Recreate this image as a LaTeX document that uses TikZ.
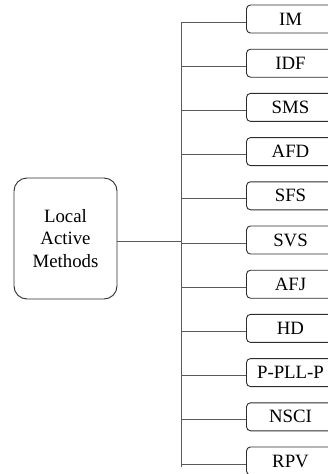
\documentclass[tikz,border=0pt]{standalone}
\usepackage{fontspec}
\setmainfont{Liberation Serif}
\definecolor{boxcol}{HTML}{2E2E2E}
\definecolor{linecol}{HTML}{5A5A5A}
\begin{document}
\begin{tikzpicture}[x=1pt,y=-1pt,
  item/.style={draw=boxcol, line width=0.9pt, rounded corners=4pt, minimum width=88pt, minimum height=28pt, inner sep=0pt, font=\fontsize{18.8}{22.5}\selectfont},
  lbox/.style={draw=boxcol, line width=0.9pt, rounded corners=13pt, minimum width=103pt, minimum height=121pt, inner sep=0pt, align=center, font=\fontsize{18.8}{22.5}\selectfont},
  conn/.style={draw=linecol, line width=0.8pt}]
\clip (0,0) rectangle (328,474);
\fill[white] (0,0) rectangle (328,474);
\coordinate (trunk) at (181.5,0);
\coordinate (ttop) at (181.5,22);
\coordinate (tbot) at (181.5,467);
\draw[conn] (ttop) -- (tbot);
\node[lbox] (L) at (65.5,238.5) {Local\\Active\\Methods};
\draw[conn] ([yshift=-3pt]L.east) -- ([yshift=-3pt]L.east -| trunk);
\foreach \lab [count=\i from 0] in {IM,IDF,SMS,AFD,SFS,SVS,AFJ,HD,P-PLL-P,NSCI,RPV} {
  \node[item] (b\i) at (290.5,{19+44.2*\i}) {\lab};
  \draw[conn] ([yshift=-3pt]b\i.west) -- ([yshift=-3pt]b\i.west -| trunk);
}
\end{tikzpicture}
\end{document}
